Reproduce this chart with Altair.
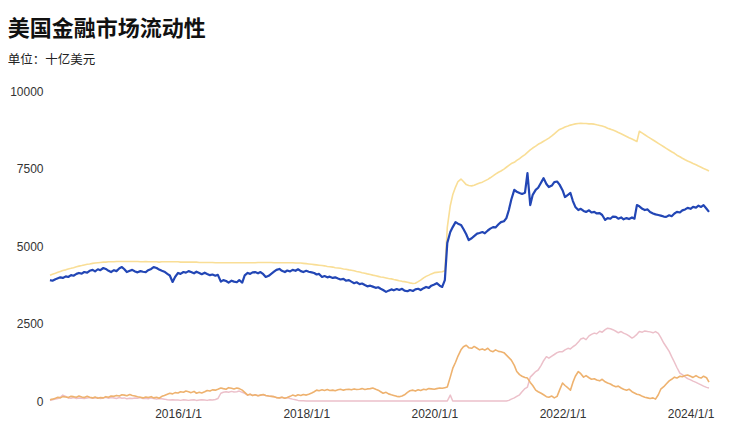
import altair as alt
import pandas as pd

# semi-monthly dates (1st and 15th), Jan 2014 .. Apr 2024
dates = [f"{y}-{m:02d}-{d:02d}" for y in range(2014, 2025) for m in range(1, 13) for d in (1, 15)
         if (y, m) <= (2024, 4)]

# Fed balance sheet (light yellow)
fed_assets = [
    4060, 4090, 4120, 4150, 4180, 4210, 4230, 4260, 4280, 4300, 4330, 4350, 4370, 4390, 4410, 4420, 4440, 4450, 4460, 4470, 4480, 4480, 4490, 4490,
    4490, 4500, 4500, 4500, 4500, 4500, 4500, 4500, 4500, 4500, 4490, 4490, 4500, 4490, 4490, 4490, 4490, 4480, 4490, 4490, 4490, 4490, 4490, 4490,
    4490, 4480, 4480, 4480, 4480, 4480, 4480, 4480, 4470, 4470, 4470, 4470, 4470, 4470, 4460, 4460, 4460, 4460, 4460, 4460, 4460, 4460, 4460, 4460,
    4460, 4460, 4460, 4460, 4460, 4460, 4470, 4470, 4470, 4470, 4470, 4470, 4460, 4460, 4460, 4460, 4460, 4460, 4460, 4460, 4450, 4450, 4450, 4440,
    4430, 4420, 4410, 4400, 4390, 4380, 4370, 4360, 4340, 4330, 4320, 4300, 4290, 4280, 4260, 4250, 4230, 4220, 4200, 4180, 4160, 4140, 4120, 4100,
    4080, 4060, 4040, 4020, 4000, 3990, 3970, 3950, 3940, 3920, 3900, 3880, 3860, 3850, 3830, 3810, 3790, 3800, 3850, 3900, 3970, 4020, 4060, 4100,
    4140, 4150, 4160, 4170, 4200, 5600, 6300, 6650, 6900, 7080, 7160, 7080, 6980, 6950, 6940, 6960, 7000, 7030, 7060, 7100, 7150, 7200, 7260, 7320,
    7380, 7420, 7480, 7540, 7600, 7660, 7700, 7760, 7820, 7880, 7950, 8020, 8100, 8160, 8220, 8280, 8330, 8380, 8430, 8480, 8550, 8620, 8700, 8760,
    8800, 8840, 8870, 8900, 8920, 8940, 8950, 8960, 8950, 8950, 8940, 8940, 8930, 8910, 8890, 8870, 8840, 8800, 8770, 8740, 8700, 8660, 8620, 8580,
    8530, 8490, 8450, 8410, 8370, 8700, 8640, 8590, 8530, 8480, 8420, 8370, 8310, 8260, 8200, 8150, 8090, 8040, 7990, 7930, 7880, 7830, 7780, 7740,
    7700, 7660, 7620, 7580, 7540, 7500, 7460, 7420,
]

# Net liquidity (blue)
net_liquidity = [
    3900, 3880, 3930, 3960, 3990, 3970, 4020, 4000, 4060, 4040, 4100, 4130, 4110, 4160, 4140, 4200, 4230, 4180, 4250, 4220, 4290, 4260, 4200, 4160,
    4220, 4190, 4280, 4320, 4250, 4160, 4200, 4230, 4180, 4150, 4190, 4170, 4160, 4220, 4260, 4320, 4290, 4240, 4200, 4170, 4100, 4050, 3840, 4000,
    4130, 4100, 4160, 4140, 4190, 4160, 4120, 4170, 4130, 4090, 4140, 4100, 4060, 4080, 4040, 4070, 3850, 3900, 3870, 3820, 3880, 3850, 3830, 3900,
    3820, 4050, 4130, 4100, 4150, 4160, 4120, 4160, 4090, 4000, 4040, 4100, 4170, 4230, 4260, 4200, 4160, 4210, 4180, 4230, 4200, 4250, 4190, 4160,
    4200, 4170, 4150, 4130, 4080, 4100, 4000, 4030, 3990, 4010, 3970, 3990, 3950, 3920, 3940, 3880, 3900, 3850, 3800, 3830, 3770, 3790, 3740, 3700,
    3720, 3690, 3650, 3670, 3620, 3580, 3520, 3560, 3600, 3570, 3610, 3580, 3620, 3560, 3540, 3580, 3550, 3600, 3620, 3580, 3640, 3680, 3650, 3720,
    3760, 3800, 3720, 3680, 3900, 5100, 5450, 5610, 5770, 5720, 5680, 5550, 5380, 5190, 5250, 5320, 5400, 5420, 5450, 5410, 5500, 5560, 5610, 5600,
    5700, 5770, 5800, 5900, 6160, 6500, 6810, 6750, 6710, 6680, 6720, 7350, 6320, 6650, 6810, 6880, 7050, 7190, 7000, 6900, 6950, 7060, 7080, 6980,
    6800, 6580, 6650, 6710, 6450, 6260, 6160, 6200, 6130, 6100, 6150, 6080, 6100, 6050, 6060, 6000, 5840, 5900, 5880, 5950, 5940, 5880, 5920, 5860,
    5900, 5870, 5920, 5880, 6320, 6280, 6200, 6160, 6180, 6100, 6050, 6020, 6000, 5980, 5950, 5940, 5990, 5960, 6050, 6100, 6080, 6150, 6180, 6230,
    6200, 6260, 6240, 6300, 6260, 6320, 6200, 6100,
]

# Treasury General Account (orange)
tga = [
    40, 60, 90, 120, 100, 140, 130, 110, 150, 140, 120, 160, 130, 110, 150, 120, 100, 130, 90, 110, 100, 140, 120, 160,
    150, 180, 160, 200, 190, 170, 210, 180, 160, 140, 120, 100, 130, 110, 140, 100, 120, 90, 150, 180, 220, 250, 230, 270,
    260, 300, 280, 320, 300, 270, 310, 250, 280, 260, 300, 340, 320, 360, 350, 380, 420, 400, 380, 430, 410, 390, 420, 400,
    350, 280, 190, 220, 180, 200, 170, 190, 210, 180, 160, 150, 140, 110, 100, 120, 90, 110, 150, 190, 160, 200, 180, 210,
    190, 220, 260, 300, 350, 330, 360, 340, 370, 340, 350, 330, 360, 380, 350, 370, 380, 360, 390, 370, 380, 400, 370, 390,
    400, 420, 380, 350, 300, 250, 280, 230, 200, 180, 150, 140, 160, 200, 280, 330, 350, 320, 360, 340, 380, 360, 400, 390,
    380, 400, 420, 410, 430, 450, 770, 1050, 1250, 1450, 1650, 1750, 1800, 1720, 1700, 1760, 1700, 1650, 1680, 1640, 1700, 1620, 1590, 1650,
    1600, 1590, 1560, 1480, 1400, 1320, 1150, 950, 850, 800, 760, 740, 600, 500, 350, 300, 250, 200, 140, 120, 160, 100, 150, 350,
    580, 500, 420, 350, 600, 800, 950, 880, 770, 820, 750, 700, 720, 680, 650, 700, 620, 580, 550, 500, 460, 480, 420, 380,
    350, 380, 300, 260, 220, 200, 150, 120, 100, 80, 100, 60, 200, 380, 460, 550, 650, 700, 770, 740, 800, 780, 820, 840,
    800, 760, 820, 770, 740, 800, 750, 610,
]

# Reverse repo (pink)
rrp = [
    20, 40, 60, 80, 120, 190, 150, 100, 90, 110, 80, 100, 90, 80, 100, 110, 90, 100, 110, 80, 100, 120, 90, 110,
    100, 80, 110, 90, 100, 70, 90, 80, 100, 90, 110, 80, 90, 70, 100, 80, 60, 80, 70, 60, 40, 30, 40, 30,
    30, 20, 40, 30, 20, 30, 40, 20, 30, 40, 30, 20, 40, 30, 50, 80, 250, 280, 300, 280, 310, 290, 300, 320,
    280, 250, 190, 220, 180, 200, 170, 190, 200, 180, 160, 150, 140, 110, 100, 120, 90, 110, 80, 60, 40, 20, 10, 5,
    0, 0, 0, 0, 0, 0, 0, 0, 0, 0, 0, 0, 0, 0, 0, 0, 0, 0, 0, 0, 0, 0, 0, 0,
    0, 0, 0, 0, 0, 0, 0, 0, 0, 0, 0, 0, 0, 0, 0, 0, 0, 0, 0, 0, 0, 0, 0, 0,
    0, 0, 0, 0, 0, 0, 190, 0, 0, 0, 0, 0, 0, 0, 0, 0, 0, 0, 0, 0, 0, 0, 0, 0,
    0, 0, 0, 0, 20, 60, 100, 150, 200, 300, 400, 450, 770, 850, 950, 1000, 1150, 1300, 1430, 1380, 1450, 1500, 1560, 1590,
    1590, 1650, 1700, 1680, 1750, 1800, 1900, 2000, 2030, 1980, 2100, 2150, 2190, 2170, 2250, 2220, 2300, 2350, 2330, 2300, 2250, 2200, 2240, 2190,
    2150, 2100, 2030, 2080, 2150, 2240, 2220, 2260, 2240, 2230, 2200, 2240, 2180, 2050, 1870, 1750, 1600, 1430, 1250, 1080, 900, 850, 780, 720,
    680, 640, 600, 560, 520, 480, 440, 420,
]

y_ticks = [0, 2500, 5000, 7500, 10000]
x_tick_years = [2016, 2018, 2020, 2022, 2024]

series = [
    ("逆回购", rrp, "#ecc0ca", 1.5),
    ("TGA", tga, "#eeb26f", 1.6),
    ("美联储资产", fed_assets, "#f9de96", 1.6),
    ("净流动性", net_liquidity, "#2246b5", 2.2),
]

x_enc = alt.X(
    "date:T",
    title=None,
    scale=alt.Scale(domain=[alt.DateTime(year=2014, month=1, date=1), alt.DateTime(year=2024, month=4, date=15)]),
    axis=alt.Axis(values=[alt.DateTime(year=y, month=1, date=1) for y in x_tick_years],
                  format="%Y/%-m/%-d", labelPadding=7, labelFlush=False),
)
y_enc = alt.Y(
    "value:Q",
    title=None,
    scale=alt.Scale(domain=[0, 10000], nice=False),
    axis=alt.Axis(values=y_ticks, format="d", labelPadding=7),
)

layers = []
for name, vals, color, sw in series:
    n = min(len(vals), len(dates))
    df = pd.DataFrame({"date": dates[:n], "value": vals[:n], "series": name})
    layers.append(
        alt.Chart(df).mark_line(color=color, strokeWidth=sw, strokeJoin="round").encode(x=x_enc, y=y_enc)
    )

chart = alt.layer(*layers).properties(
    width=659,
    height=310,
    autosize=alt.AutoSizeParams(type="none"),
    padding={"left": 42, "top": 83, "right": 20, "bottom": 25},
    title=alt.TitleParams(
        text="美国金融市场流动性",
        subtitle="单位：十亿美元",
        anchor="start",
        frame="bounds",
        dx=-2,
        font="Noto Sans CJK SC",
        fontSize=22,
        fontWeight="bold",
        color="#111111",
        subtitleFont="Noto Sans CJK SC",
        subtitleFontSize=12.5,
        subtitleColor="#222222",
        subtitlePadding=13,
        offset=18,
    ),
).configure_view(stroke=None).configure_axis(
    grid=False,
    domain=False,
    ticks=False,
    labelFont="Liberation Sans",
    labelFontSize=12,
    labelColor="#333333",
)

chart.save("out.html", embed_options={"renderer": "svg", "actions": False})
